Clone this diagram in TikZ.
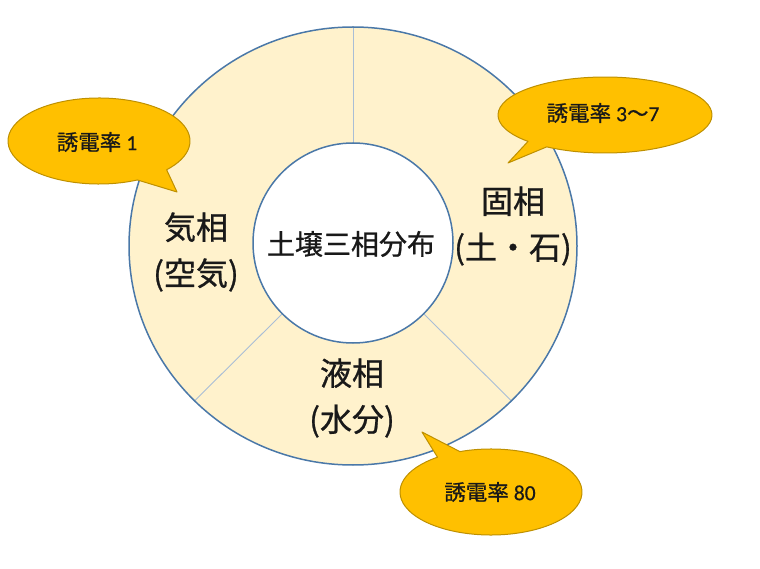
\documentclass[tikz,border=0pt]{standalone}
\usepackage{fontspec}
\usetikzlibrary{calc}
\newfontfamily\cjk[FakeBold=0.8]{Noto Sans CJK JP}
\newfontfamily\lat[FakeBold=0.6]{Carlito}
\definecolor{ringfill}{HTML}{FFF2CC}
\definecolor{ringline}{HTML}{4A78A8}
\definecolor{divline}{HTML}{A9BED6}
\definecolor{callfill}{HTML}{FFC000}
\definecolor{callline}{HTML}{BE9000}
\tikzset{
  ringedge/.style={draw=ringline, line width=1.5pt},
  divider/.style={draw=divline, line width=0.9pt},
  callout/.style={fill=callfill, draw=callline, line width=1pt, line join=round},
  phase/.style={align=center, font=\cjk\fontsize{32}{46}\selectfont, text=black!90},
  calltext/.style={font=\cjk\fontsize{21.5}{24}\selectfont, text=black!90, inner sep=0pt},
}
\begin{document}
\begin{tikzpicture}[x=1pt,y=-1pt]
\useasboundingbox (0,0) rectangle (760,569);
% ring
\coordinate (oc) at (353,246);
\coordinate (ic) at (353,243);
\fill[ringfill] (oc) ellipse [x radius=224, y radius=219];
\fill[white] (ic) circle [radius=100];
% dividers
\draw[divider] ($(ic)+(270:100)$) coordinate (d1a) -- ($(oc)+(270:224 and 219)$) coordinate (d1b);
\draw[divider] ($(ic)+(135:100)$) coordinate (d2a) -- ($(oc)+(135:224 and 219)$) coordinate (d2b);
\draw[divider] ($(ic)+(45:100)$) coordinate (d3a) -- ($(oc)+(45:224 and 219)$) coordinate (d3b);
\draw[ringedge] (oc) ellipse [x radius=224, y radius=219];
\draw[ringedge] (ic) circle [radius=100];
% labels
\node[font=\cjk\fontsize{28}{32}\selectfont, text=black!90] (center) at (351,244) {土壌三相分布};
\node[phase] (gas) at (196,252) {気相\\(空気)};
\node[phase] (solid) at (513,226) {固相\\(土・石)};
\node[phase] (liquid) at (352,398) {液相\\(水分)};
% callouts
\coordinate (t1) at (177,192);
\draw[callout] (99,141) ++(65:91 and 43) arc[start angle=65, end angle=402, x radius=91, y radius=43] -- (t1) -- cycle;
\coordinate (t2) at (508,163);
\draw[callout] (605,115) ++(136:107 and 38) arc[start angle=136, end angle=483, x radius=107, y radius=38] -- (t2) -- cycle;
\coordinate (t3) at (422,432);
\draw[callout] (491,492) ++(250:91 and 43) arc[start angle=250, end angle=594, x radius=91, y radius=43] -- (t3) -- cycle;
\node[calltext] (c1) at (97,142) {誘電率\hspace{5pt}{\lat 1}};
\node[calltext] (c2) at (603,113) {誘電率\hspace{5pt}{\lat 3}〜{\lat 7}};
\node[calltext] (c3) at (490,492) {誘電率\hspace{5pt}{\lat 80}};
\end{tikzpicture}
\end{document}
